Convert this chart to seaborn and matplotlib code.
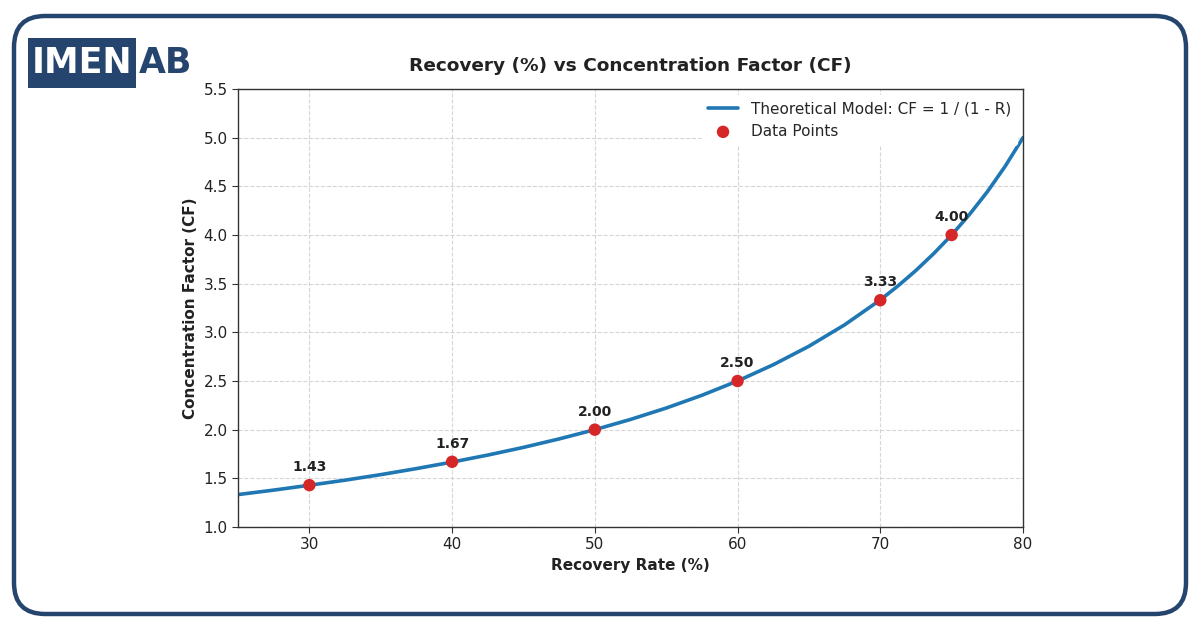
import matplotlib
matplotlib.use("Agg")
import matplotlib.pyplot as plt
from matplotlib.patches import FancyBboxPatch, Rectangle
import seaborn as sns
import pandas as pd

# Theoretical curve values
curve_recovery = [25, 27.5, 30, 32.5, 35, 37.5, 40, 42.5, 45, 47.5, 50, 52.5, 55,
                  57.5, 60, 62.5, 65, 67.5, 70, 71.25, 72.5, 73.75, 75, 76.25, 77.5, 78.75, 80]
curve_cf = [1.333, 1.379, 1.429, 1.481, 1.538, 1.600, 1.667, 1.739, 1.818, 1.905, 2.000,
            2.105, 2.222, 2.353, 2.500, 2.667, 2.857, 3.077, 3.333, 3.478, 3.636, 3.810,
            4.000, 4.211, 4.444, 4.706, 5.000]

# Data points
point_recovery = [30, 40, 50, 60, 70, 75]
point_cf = [1.43, 1.67, 2.00, 2.50, 3.33, 4.00]
point_labels = ["1.43", "1.67", "2.00", "2.50", "3.33", "4.00"]

x_ticks = [30, 40, 50, 60, 70, 80]
y_ticks = [1.0, 1.5, 2.0, 2.5, 3.0, 3.5, 4.0, 4.5, 5.0, 5.5]

sns.set_theme(style="white")
plt.rcParams['font.family'] = ['DejaVu Sans']

fig = plt.figure(figsize=(12, 6.3), dpi=100)
fig.patch.set_facecolor("white")

navy = "#26456e"
# rounded frame
frame = FancyBboxPatch((14 / 1200, 16 / 630), (1186 - 14) / 1200, (614 - 16) / 630,
                       boxstyle="round,pad=0,rounding_size=0.026",
                       transform=fig.transFigure, fill=False, edgecolor=navy,
                       linewidth=3.2, mutation_aspect=1200 / 630)
fig.patches.append(frame)

# logo
fig.patches.append(Rectangle((28 / 1200, 1 - 88 / 630), (136 - 28) / 1200, 50 / 630,
                             transform=fig.transFigure, facecolor=navy, edgecolor="none"))
fig.text(82 / 1200, 1 - 63 / 630, "IMEN", color="white", fontsize=25, fontweight="bold",
         ha="center", va="center", family="DejaVu Sans")
fig.text(139 / 1200, 1 - 63 / 630, "AB", color=navy, fontsize=25, fontweight="bold",
         ha="left", va="center", family="DejaVu Sans")

ax = fig.add_axes([238 / 1200, 1 - 527 / 630, (1023 - 238) / 1200, (527 - 89) / 630])

curve_df = pd.DataFrame({"Recovery": curve_recovery, "CF": curve_cf})
pts_df = pd.DataFrame({"Recovery": point_recovery, "CF": point_cf})

sns.lineplot(data=curve_df, x="Recovery", y="CF", ax=ax, color="#1f77b4", linewidth=2.6,
             label="Theoretical Model: CF = 1 / (1 - R)", zorder=2)
sns.scatterplot(data=pts_df, x="Recovery", y="CF", ax=ax, color="#d62728", s=80,
                edgecolor="none", label="Data Points", zorder=3)

for xv, yv, lab in zip(point_recovery, point_cf, point_labels):
    ax.annotate(lab, (xv, yv), xytext=(0, 8), textcoords="offset points",
                ha="center", va="bottom", fontsize=10, fontweight="bold", color="#222222")

ax.set_xlim(25, 80)
ax.set_ylim(1.0, 5.5)
ax.set_xticks(x_ticks)
ax.set_yticks(y_ticks)
ax.tick_params(axis="both", labelsize=11, length=4, width=0.8, color="#333333",
               labelcolor="#222222", bottom=True, left=True)
for sp in ax.spines.values():
    sp.set_color("#333333")
    sp.set_linewidth(1.0)
ax.grid(True, linestyle="--", color="#cccccc", linewidth=0.8, alpha=0.8)
ax.set_axisbelow(True)

ax.set_xlabel("Recovery Rate (%)", fontsize=11, fontweight="bold", color="#222222")
ax.set_ylabel("Concentration Factor (CF)", fontsize=11, fontweight="bold", color="#222222")
ax.set_title("Recovery (%) vs Concentration Factor (CF)", fontsize=13.3, fontweight="bold",
             color="#222222", pad=13)

leg = ax.legend(loc="upper right", fontsize=11, frameon=True, framealpha=1.0,
                edgecolor="white", facecolor="white", borderaxespad=0.4)

fig.savefig("out.png", dpi=100, facecolor="white")
